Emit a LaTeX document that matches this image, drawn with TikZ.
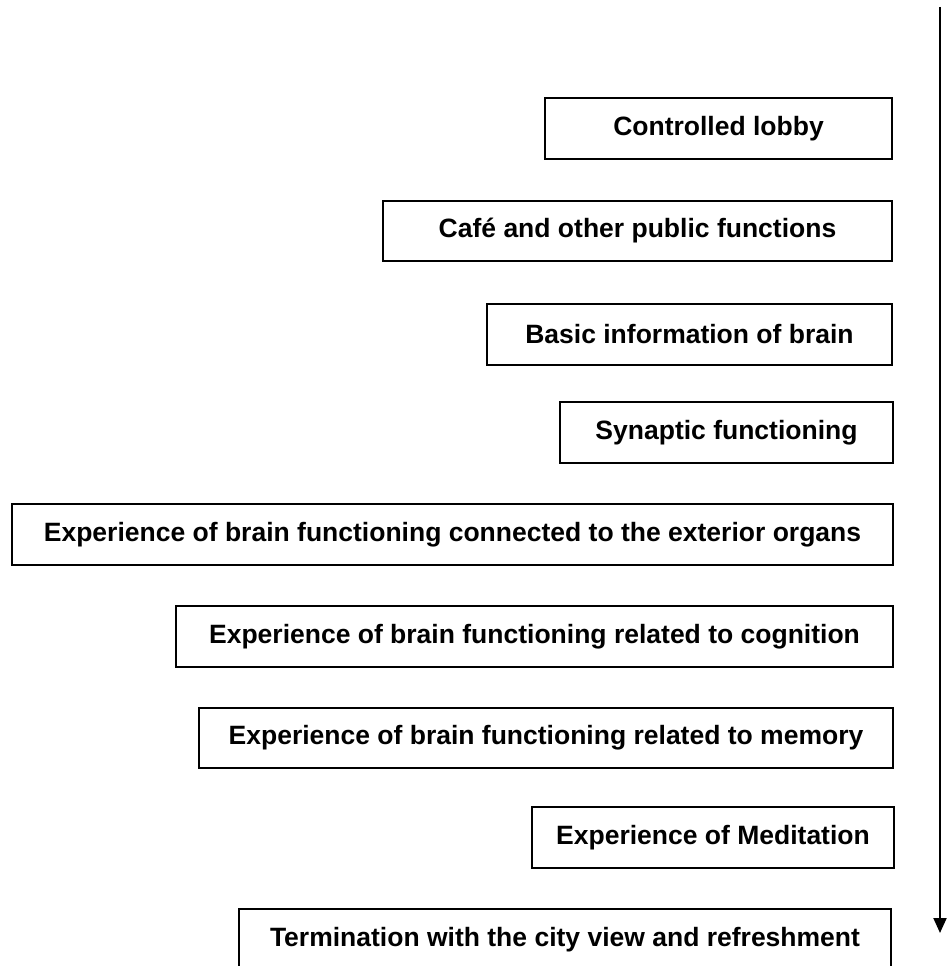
\documentclass[tikz,border=0pt]{standalone}
\usepackage{fontspec}
\setmainfont{Liberation Sans}
\usetikzlibrary{arrows.meta}
\begin{document}
\begin{tikzpicture}[x=1pt,y=-1pt,
  box/.style={draw=black, line width=2pt, inner sep=0pt, font=\fontsize{26.5}{31}\selectfont\bfseries, text=black}]
\useasboundingbox (0,0) rectangle (949,966);
\clip (0,0) rectangle (949,966);
\fill[white] (0,0) rectangle (949,966);
\newcommand{\mybox}[6]{%
  \node[box, minimum width={#4-#2}, minimum height={#5-#3}] (#1) at ({(#2+#4)/2},{(#3+#5)/2}) {#6};}
\mybox{n1}{545}{98}{892}{159}{Controlled lobby}
\mybox{n2}{383}{201}{892}{261}{Café and other public functions}
\mybox{n3}{487}{304}{892}{365}{Basic information of brain}
\mybox{n4}{560}{402}{893}{463}{Synaptic functioning}
\mybox{n5}{12}{504}{893}{565}{Experience of brain functioning connected to the exterior organs}
\mybox{n6}{176}{606}{893}{667}{Experience of brain functioning related to cognition}
\mybox{n7}{199}{708}{893}{768}{Experience of brain functioning related to memory}
\mybox{n8}{532}{807}{894}{868}{Experience of Meditation}
\mybox{n9}{239}{909}{891}{970}{Termination with the city view and refreshment}
\coordinate (atop) at (940,7);
\coordinate (abot) at (940,933);
\draw[line width=2pt, -{Triangle[length=15pt,width=13pt]}] (atop) -- (abot);
\end{tikzpicture}
\end{document}
